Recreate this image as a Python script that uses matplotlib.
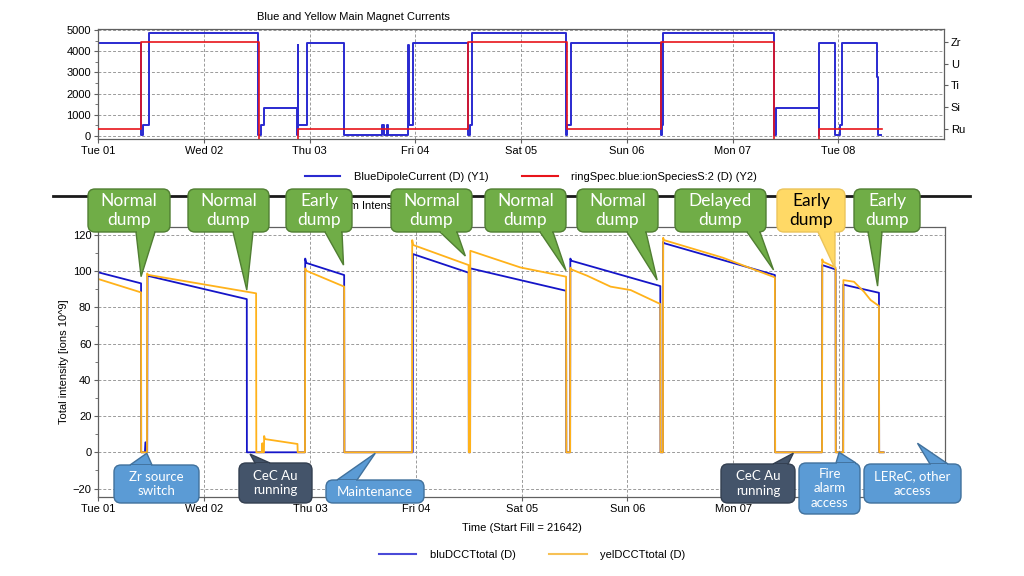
import matplotlib
matplotlib.use("Agg")
import matplotlib.pyplot as plt
import matplotlib.transforms as mtransforms
from matplotlib.patches import FancyBboxPatch, Polygon, Rectangle
from matplotlib.lines import Line2D

plt.rcParams["font.family"] = ["Liberation Sans", "DejaVu Sans"]

# ---- data -------------------------------------------------------------
day_labels = ["Tue 01", "Wed 02", "Thu 03", "Fri 04", "Sat 05", "Sun 06", "Mon 07", "Tue 08"]
species = ["Ru", "Si", "Ti", "U", "Zr"]          # right axis, index 1..5 (0 = none)

# BlueDipoleCurrent (step, value holds from time on)
dip_t = [0, 0.405, 0.43, 0.486, 1.517, 1.545, 1.57, 1.886, 1.888, 1.892, 1.974,
         2.327, 2.69, 2.70, 2.735, 2.745, 2.936, 2.94, 2.983, 3.503, 3.515, 3.535,
         4.425, 4.432, 4.475, 5.32, 5.33, 5.345, 6.395, 6.41, 6.815, 6.822, 6.966,
         7.02, 7.04, 7.37, 7.38, 7.407]
dip_v = [4370, 50, 520, 4850, 50, 520, 1300, 50, 4300, 520, 4370,
         50, 500, 50, 500, 50, 4300, 520, 4370, 50, 520, 4850,
         50, 520, 4400, 50, 520, 4850, 50, 1300, 50, 4370, 50,
         520, 4370, 2800, 50, 50]

# ringSpec.blue:ionSpeciesS:2 (species index)
spec_t = [0, 0.407, 1.526, 1.89, 3.503, 4.433, 5.327, 6.395, 6.815, 7.41]
spec_v = [1, 5, 0, 1, 5, 1, 5, 0, 1, 1]

# bluDCCTtotal
blu_t = [0, 0.404, 0.405, 0.44, 0.445, 0.452, 0.455, 0.462, 0.465, 1.403, 1.404,
         1.953, 1.955, 1.965, 2.323, 2.325, 2.971, 2.973, 3.499, 3.501, 3.513, 3.515,
         4.42, 4.422, 4.458, 4.46, 4.47, 5.31, 5.312, 5.335, 5.337, 5.345, 6.393,
         6.395, 6.838, 6.84, 6.966, 6.968, 7.038, 7.04, 7.376, 7.378, 7.42]
blu_v = [99.4, 93.3, 0, 0, 5.5, 5.5, 0, 0, 97.5, 84.6, 0,
         0, 107, 104.6, 97.9, 0, 0, 109.5, 99.2, 0, 0, 101.6,
         89.2, 0, 0, 107, 105.8, 91.8, 0, 0, 116.3, 115.5, 97.9,
         0, 0, 103.4, 101, 0, 0, 92.6, 88.1, 0, 0]

# yelDCCTtotal
yel_t = [0, 0.404, 0.405, 0.46, 0.462, 0.47, 1.491, 1.493, 1.545, 1.55, 1.555,
         1.565, 1.567, 1.575, 1.882, 1.884, 1.953, 1.955, 1.965, 2.323, 2.325,
         2.964, 2.966, 2.975, 3.499, 3.501, 3.513, 3.515, 3.988, 4.42, 4.422,
         4.458, 4.46, 4.47, 4.62, 4.84, 5.03, 5.31, 5.312, 5.335, 5.337, 5.345,
         5.9, 6.393, 6.395, 6.838, 6.84, 6.85, 6.966, 6.968, 7.038, 7.04, 7.14,
         7.234, 7.297, 7.376, 7.378, 7.42]
yel_v = [95.7, 88.3, 0, 0, 98.8, 98, 87.8, 0, 0, 5, 0,
         0, 9, 7.3, 4.6, 0, 0, 101.6, 100.3, 91.5, 0,
         0, 117.2, 114.5, 103.4, 0, 0, 111.3, 102.1, 97, 0,
         0, 102, 101, 97.5, 91.5, 89.6, 81.9, 0, 0, 118.5, 117.2,
         107.5, 96.6, 0, 0, 106.6, 105.2, 102.1, 0, 0, 95.1, 94.2,
         88.7, 84.1, 80.8, 0, 0]

# callouts: text, box (x0, y0, x1, y1) px, pointer base (x0, x1) px, tip (day, value), style
top_notes = [
    ("Normal\ndump", (88, 189, 170, 232), (136, 155), (0.404, 97), "green"),
    ("Normal\ndump", (188, 189, 269, 232), (233, 253), (1.403, 89.6), "green"),
    ("Early\ndump", (286, 189, 352, 232), (325, 342), (2.317, 103.4), "green"),
    ("Normal\ndump", (391, 189, 472, 232), (440, 457), (3.468, 108.4), "green"),
    ("Normal\ndump", (485, 189, 566, 232), (540, 553), (4.42, 100.3), "green"),
    ("Normal\ndump", (577, 189, 658, 232), (627, 646), (5.28, 95.1), "green"),
    ("Delayed\ndump", (675, 189, 766, 232), (747, 760), (6.38, 100.7), "green"),
    ("Early\ndump", (777, 189, 845, 232), (818, 835), (6.96, 101.6), "yellow"),
    ("Early\ndump", (854, 189, 920, 232), (868, 882), (7.363, 91.8), "green"),
]
bottom_notes = [
    ("Zr source\nswitch", (114, 465, 199, 503), (130, 152), (0.458, -0.5), "blue"),
    ("CeC Au\nrunning", (239, 463, 312, 503), (255, 270), (1.434, -1), "dark"),
    ("Maintenance", (326, 480, 424, 503), (337, 357), (2.617, -0.5), "blue"),
    ("CeC Au\nrunning", (721, 464, 795, 503), (773, 788), (6.567, -0.5), "dark"),
    ("Fire\nalarm\naccess", (799, 463, 860, 514), (836, 856), (7.0, 0), "blue"),
    ("LEReC, other\naccess", (864, 464, 961, 503), (930, 948), (7.74, 5), "blue"),
]

styles = {
    "green": ("#70AD47", "#507E32", "white"),
    "yellow": ("#FFD966", "#EBC45A", "black"),
    "blue": ("#5B9BD5", "#41719C", "white"),
    "dark": ("#44546A", "#333F50", "white"),
}

BLUE = "#1515c8"
YEL = "#ffb21a"
RED = "#e8141a"
GRID = "#9a9a9a"
SPINE = "#606060"

# ---- figure -----------------------------------------------------------
W, H = 1024, 576
fig = plt.figure(figsize=(10.24, 5.76), dpi=100)
pix = mtransforms.Affine2D().scale(1 / 100, -1 / 100).translate(0, 5.76) + fig.dpi_scale_trans


def rect(x0, y0, x1, y1):
    return [x0 / W, 1 - y1 / H, (x1 - x0) / W, (y1 - y0) / H]


def style_axes(ax):
    for s in ax.spines.values():
        s.set_color(SPINE)
        s.set_linewidth(0.9)
    ax.grid(True, which="major", ls=(0, (3, 2)), color=GRID, lw=0.7)
    ax.tick_params(labelsize=8, length=3, color=SPINE, pad=2)
    ax.tick_params(which="minor", length=2, color=SPINE)
    ax.set_xlim(0, 8)
    ax.set_xticks(range(len(day_labels)))
    ax.set_xticklabels(day_labels)


# top: magnet currents
ax1 = fig.add_axes(rect(98, 29.3, 944, 139.3))
style_axes(ax1)
ax1.step(dip_t, dip_v, where="post", color="#2a2ad0", lw=1.4)
ax1.set_ylim(-156, 5033)
ax1.set_yticks(range(0, 5001, 1000))
ax1.set_yticks(range(0, 5001, 500), minor=True)
ax1r = ax1.twinx()
ax1r.step(spec_t, spec_v, where="post", color=RED, lw=1.2)
ax1r.set_ylim(0.528, 5.568)
ax1r.set_yticks(range(1, len(species) + 1))
ax1r.set_yticklabels(species)
ax1r.tick_params(labelsize=8, length=3, color=SPINE, pad=2)
for s in ax1r.spines.values():
    s.set_visible(False)

# bottom: beam intensities
ax2 = fig.add_axes(rect(98.3, 226.7, 945, 497.3))
style_axes(ax2)
ax2.plot(blu_t, blu_v, color=BLUE, lw=1.3)
ax2.plot(yel_t, yel_v, color=YEL, lw=1.3)
ax2.set_ylim(-24.85, 124.6)
ax2.set_yticks(range(-20, 121, 20))
ax2.set_yticks(range(-20, 121, 10), minor=True)

# texts
fig.text(353 / W, 1 - 17.3 / H, "Blue and Yellow Main Magnet Currents", ha="center", va="center", fontsize=8)
fig.text(353 / W, 1 - 206 / H, "Total Beam Intensity", ha="center", va="center", fontsize=8, zorder=0.5)
fig.text(64 / W, 1 - 362 / H, "Total intensity [ions 10^9]", rotation=90, ha="center", va="center", fontsize=8)
fig.text(521.5 / W, 1 - 528.3 / H, "Time (Start Fill = 21642)", ha="center", va="center", fontsize=8)
fig.add_artist(Line2D([53, 970], [196, 196], transform=pix, color="#1a1a1a", lw=2.0, zorder=0.6))

fig.legend([Line2D([], [], color="#2a2ad0", lw=1.5), Line2D([], [], color=RED, lw=1.5)],
           ["BlueDipoleCurrent (D) (Y1)", "ringSpec.blue:ionSpeciesS:2 (D) (Y2)"],
           loc="center", bbox_to_anchor=(531 / W, 1 - 177 / H), ncol=2, frameon=False,
           fontsize=8, handlelength=3.2, handletextpad=1.2, columnspacing=3.05)
fig.legend([Line2D([], [], color="#4a4ad8", lw=1.5), Line2D([], [], color="#f7c155", lw=1.5)],
           ["bluDCCTtotal (D)", "yelDCCTtotal (D)"],
           loc="center", bbox_to_anchor=(532 / W, 1 - 555 / H), ncol=2, frameon=False,
           fontsize=8, handlelength=3.4, handletextpad=1.2, columnspacing=3.0)


# callouts
def callout(ax, text, box, base, tip, style, fs):
    fc, ec, tc = styles[style]
    x0, y0, x1, y1 = box
    dx, dy = ax.transData.transform(tip)
    tx, ty = dx * 100 / fig.dpi, H - dy * 100 / fig.dpi
    edge = y1 if ty > y1 else y0
    inward = -2 if ty > y1 else 2
    fig.add_artist(Polygon([(base[0], edge), (tx, ty), (base[1], edge)], closed=True,
                           transform=pix, fc=fc, ec=ec, lw=1.0, zorder=5))
    fig.add_artist(FancyBboxPatch((x0, y0), x1 - x0, y1 - y0, boxstyle="round,pad=0,rounding_size=7",
                                  transform=pix, fc=fc, ec=ec, lw=1.0, zorder=5))
    fig.add_artist(Rectangle((base[0] + 1.2, min(edge, edge + inward)), base[1] - base[0] - 2.4, 3,
                             transform=pix, fc=fc, ec="none", zorder=5.5))
    fig.text((x0 + x1) / 2 / W, 1 - (y0 + y1) / 2 / H, text, ha="center", va="center", color=tc,
             fontsize=fs, family=["Lato", "DejaVu Sans"], linespacing=1.25, zorder=6)


for text, box, base, tip, style in top_notes:
    callout(ax2, text, box, base, tip, style, 12.5)
for text, box, base, tip, style in bottom_notes:
    callout(ax2, text, box, base, tip, style, 9.5)

fig.savefig("out.png", dpi=100)
